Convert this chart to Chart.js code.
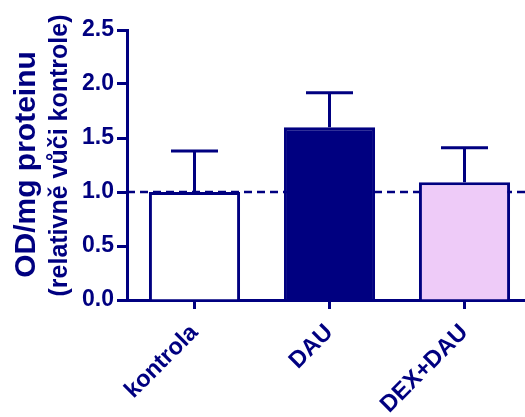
<!DOCTYPE html>
<html>
<head>
<meta charset="utf-8">
<script src="https://cdn.jsdelivr.net/npm/chart.js@4"></script>
<style>
  html, body { margin: 0; padding: 0; overflow: hidden; background: #ffffff; }
  #wrap { width: 540px; height: 417px; }
</style>
</head>
<body>
<div id="wrap"><canvas id="c" width="540" height="417"></canvas></div>
<script>
// Group names, means and upper error (SD) per group
const categories = ['kontrola', 'DAU', 'DEX+DAU'];
const meanValues = [1.00, 1.60, 1.09];
const errorValues = [0.38, 0.32, 0.32];
const barFills = ['#ffffff', '#000080', '#eecbf8'];
const yTickValues = [0.0, 0.5, 1.0, 1.5, 2.0, 2.5];
const referenceLevel = 1.0;
const yTitleMain = 'OD/mg proteinu';
const yTitleSub = '(relativně vůči kontrole)';

const NAVY = '#000080';
const FONT = '"Liberation Sans", Arial, Helvetica, sans-serif';

// Dashed reference line behind the bars, error bars on top, two-line axis title
const extras = {
  id: 'extras',
  beforeDatasetsDraw(chart) {
    const { ctx, chartArea } = chart;
    const y = chart.scales.y.getPixelForValue(referenceLevel);
    ctx.save();
    ctx.strokeStyle = NAVY;
    ctx.lineWidth = 2.5;
    ctx.setLineDash([8, 5]);
    ctx.beginPath();
    ctx.moveTo(chartArea.left, y);
    ctx.lineTo(chartArea.right, y);
    ctx.stroke();
    ctx.restore();
  },
  afterDatasetsDraw(chart) {
    const { ctx } = chart;
    const yScale = chart.scales.y;
    const meta = chart.getDatasetMeta(0);
    ctx.save();
    ctx.strokeStyle = NAVY;
    ctx.lineWidth = 3;
    ctx.lineCap = 'butt';
    meta.data.forEach((bar, i) => {
      const x = bar.x;
      const yTop = yScale.getPixelForValue(meanValues[i] + errorValues[i]);
      const yBase = yScale.getPixelForValue(meanValues[i]);
      ctx.beginPath();
      ctx.moveTo(x, yBase);
      ctx.lineTo(x, yTop);
      ctx.moveTo(x - 23.5, yTop);
      ctx.lineTo(x + 23.5, yTop);
      ctx.stroke();
    });
    ctx.restore();
  },
  afterDraw(chart) {
    const { ctx } = chart;
    ctx.save();
    ctx.fillStyle = NAVY;
    ctx.textAlign = 'center';
    ctx.textBaseline = 'alphabetic';
    ctx.translate(35, 164.5);
    ctx.rotate(-Math.PI / 2);
    ctx.font = 'bold 30px ' + FONT;
    ctx.fillText(yTitleMain, 0, 0);
    ctx.restore();
    ctx.save();
    ctx.fillStyle = NAVY;
    ctx.textAlign = 'center';
    ctx.textBaseline = 'alphabetic';
    ctx.translate(67, 155.5);
    ctx.rotate(-Math.PI / 2);
    ctx.font = 'bold 25px ' + FONT;
    ctx.fillText(yTitleSub, 0, 0);
    ctx.restore();
  }
};

new Chart(document.getElementById('c'), {
  type: 'bar',
  data: {
    labels: categories,
    datasets: [{
      data: meanValues,
      backgroundColor: barFills,
      borderColor: NAVY,
      borderWidth: 3,
      barPercentage: 0.675,
      categoryPercentage: 1.0
    }]
  },
  options: {
    responsive: false,
    animation: false,
    devicePixelRatio: 1,
    layout: { padding: { left: 0, top: 30, right: 8, bottom: 0 } },
    plugins: { legend: { display: false }, tooltip: { enabled: false } },
    scales: {
      x: {
        offset: true,
        afterFit(scale) { scale.height = 117; },
        grid: {
          display: true, drawOnChartArea: false, offset: false,
          tickLength: 9, tickWidth: 3, tickColor: NAVY
        },
        border: { display: true, width: 3, color: NAVY },
        ticks: {
          color: NAVY, font: { family: FONT, size: 23.5, weight: 'bold' },
          maxRotation: 45, minRotation: 45, padding: 10, autoSkip: false
        }
      },
      y: {
        min: 0, max: 2.5,
        afterFit(scale) { scale.width = 127; },
        afterBuildTicks(scale) { scale.ticks = yTickValues.map(v => ({ value: v })); },
        grid: {
          display: true, drawOnChartArea: false,
          tickLength: 10, tickWidth: 3, tickColor: NAVY
        },
        border: { display: true, width: 3, color: NAVY },
        ticks: {
          color: NAVY, font: { family: FONT, size: 23, weight: 'bold' },
          padding: 3,
          callback: v => Number(v).toFixed(1)
        }
      }
    }
  },
  plugins: [extras]
});
</script>
</body>
</html>
